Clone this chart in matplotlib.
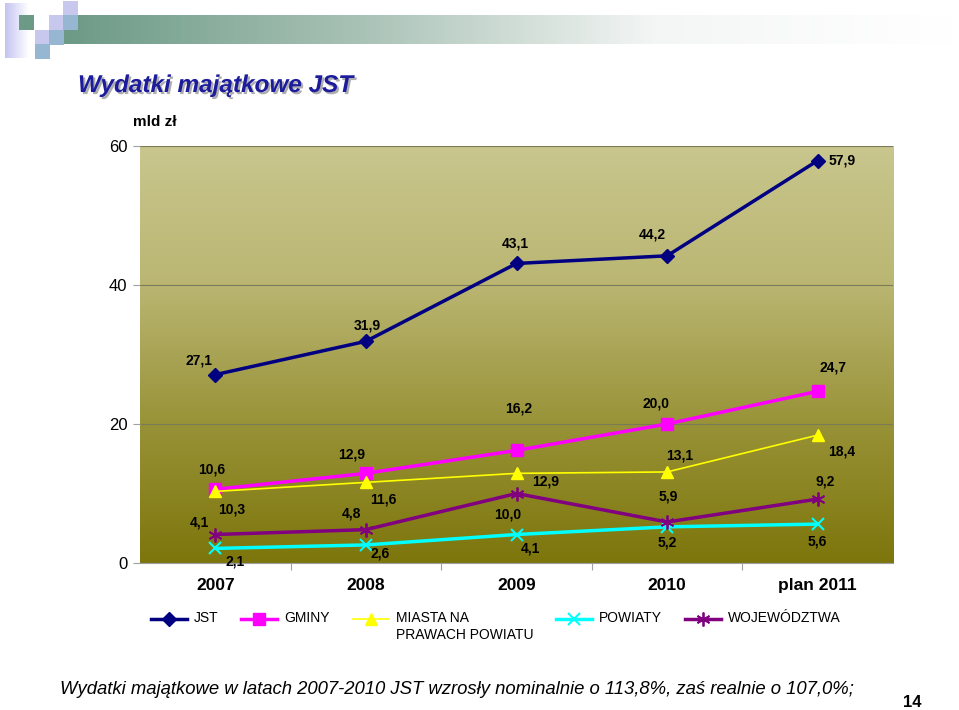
import matplotlib
matplotlib.use('Agg')
import matplotlib.pyplot as plt
import matplotlib.patheffects as pe
from matplotlib.colors import LinearSegmentedColormap
from matplotlib.legend_handler import HandlerLine2D
from matplotlib.transforms import Affine2D
import numpy as np

# data
years = ['2007', '2008', '2009', '2010', 'plan 2011']
jst = [27.1, 31.9, 43.1, 44.2, 57.9]
gminy = [10.6, 12.9, 16.2, 20.0, 24.7]
miasta = [10.3, 11.6, 12.9, 13.1, 18.4]
powiaty = [2.1, 2.6, 4.1, 5.2, 5.6]
wojewodztwa = [4.1, 4.8, 10.0, 5.9, 9.2]

plt.rcParams['font.family'] = ['Liberation Sans', 'DejaVu Sans']

fig = plt.figure(figsize=(9.59, 7.1), dpi=100)

# slide decoration (pixel coords)
deco = fig.add_axes([0, 0, 1, 1], zorder=0)
deco.set_xlim(0, 959)
deco.set_ylim(710, 0)
deco.axis('off')
bar = np.linspace(0, 1, 256).reshape(1, -1)
bar_cmap = LinearSegmentedColormap.from_list('bar', ['#6c9a86', '#a9c2b6', '#f4f6f5', '#ffffff'])
deco.imshow(bar, cmap=bar_cmap, extent=[63, 955, 44, 15], aspect='auto')
sq = np.linspace(0, 1, 64).reshape(1, -1)
deco.imshow(sq, cmap=LinearSegmentedColormap.from_list('sq', ['#c4c4f2', '#ffffff']),
            extent=[5, 29, 58, 3], aspect='auto')
for (x0, y0, c) in [(19, 15, '#6c9a86'), (49, 15, '#c8c8ef'), (63, 1, '#c8c8ef'),
                    (63, 15, '#96b6d2'), (35, 30, '#c8c8ef'), (49, 30, '#96b6d2'),
                    (35, 44, '#96b6d2')]:
    deco.add_patch(plt.Rectangle((x0, y0), 14.5, 14.5, color=c, lw=0))

fig.text(78, 710 - 92, 'Wydatki majątkowe JST', transform=None,
         fontsize=17.5, fontweight='bold', style='italic', color='#1c1c9c',
         path_effects=[pe.withSimplePatchShadow(offset=(1.5, -1.5), shadow_rgbFace='#9a9a9a', alpha=0.8)])
fig.text(133, 710 - 126, 'mld zł', transform=None, fontsize=11, fontweight='bold')

# main plot
ax = fig.add_axes([140 / 959, 1 - 563 / 710, 753 / 959, 417 / 710], zorder=1)
ax.set_xlim(0, 5)
ax.set_ylim(0, 60)
grad = np.linspace(0, 1, 256).reshape(-1, 1)
bg_cmap = LinearSegmentedColormap.from_list('bg', [(0, '#c9c68e'), (0.33, '#bab672'),
                                                   (0.67, '#989237'), (1, '#7d760c')])
ax.imshow(grad, cmap=bg_cmap, extent=[0, 5, 0, 60], aspect='auto', zorder=0)

ax.set_yticks([0, 20, 40, 60])
ax.yaxis.grid(True, color='#7a7a58', lw=0.8)
ax.set_axisbelow(True)
for s in ['left', 'right', 'top']:
    ax.spines[s].set_visible(False)
ax.spines['bottom'].set_color('#a0a0a0')
ax.tick_params(axis='y', length=5, color='#a0a0a0', labelsize=12, pad=4)
ax.set_xticks(np.arange(1, 5), minor=False)
ax.set_xticklabels([])
ax.tick_params(axis='x', length=5, color='#a0a0a0', direction='out')
x = np.arange(len(years)) + 0.5
for xi, lab in zip(x, years):
    ax.text(xi, -0.055, lab, transform=ax.get_xaxis_transform(), ha='center', va='center',
            fontsize=12.5, fontweight='bold')

series = [
    ('JST\n', jst, dict(color='#000080', lw=2.5, marker='D', ms=7)),
    ('GMINY\n', gminy, dict(color='#ff00ff', lw=2.5, marker='s', ms=8)),
    ('MIASTA NA\nPRAWACH POWIATU', miasta, dict(color='#ffff00', lw=1.2, marker='^', ms=9)),
    ('POWIATY\n', powiaty, dict(color='#00ffff', lw=2.5, marker='x', ms=9, mew=1.5)),
    ('WOJEWÓDZTWA\n', wojewodztwa, dict(color='#800080', lw=2.5, marker=(6, 2, 0), ms=10, mew=1.3)),
]
offsets = [
    [(-16, 14), (1, 16), (-1, 20), (-15, 21), (24, 0)],
    [(-4, 20), (-14, 19), (2, 42), (-11, 21), (15, 24)],
    [(16, -18), (17, -17), (29, -8), (13, 16), (24, -16)],
    [(20, -13), (14, -9), (14, -14), (0, -16), (0, -17)],
    [(-16, 12), (-14, 16), (-9, -21), (1, 25), (7, 18)],
]
handles = []
for (name, vals, st), offs in zip(series, offsets):
    h, = ax.plot(x, vals, label=name, zorder=3, **st)
    handles.append(h)
    for xi, v, (dx, dy) in zip(x, vals, offs):
        ax.annotate(f'{v:.1f}'.replace('.', ','), (xi, v), xytext=(dx, dy),
                    textcoords='offset pixels', ha='center', va='center',
                    fontsize=10, fontweight='bold', zorder=4)


class UpHandler(HandlerLine2D):
    # keep the key level with the first line of the label
    def create_artists(self, legend, orig_handle, xdescent, ydescent, width, height, fontsize, trans):
        return super().create_artists(legend, orig_handle, xdescent, ydescent, width, height,
                                      fontsize, trans + Affine2D().translate(0, 8))


fig.legend(handles=handles, loc='upper left', bbox_to_anchor=(138 / 959, 1 - 599 / 710),
           ncol=5, frameon=False, fontsize=10, handlelength=2.6, handletextpad=0.5,
           columnspacing=1.65, handler_map={h: UpHandler() for h in handles})

fig.text(60, 710 - 694, 'Wydatki majątkowe w latach 2007-2010 JST wzrosły nominalnie o 113,8%, zaś realnie o 107,0%;',
         transform=None, fontsize=13.3, style='italic')
fig.text(903, 3, '14', transform=None, fontsize=12, fontweight='bold')

fig.savefig('out.png', dpi=100)
